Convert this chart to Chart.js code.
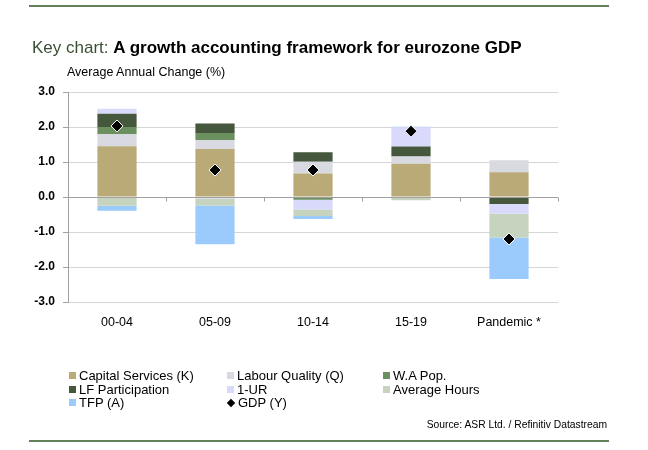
<!DOCTYPE html>
<html>
<head>
<meta charset="utf-8">
<script src="https://cdn.jsdelivr.net/npm/chart.js@4.4.1/dist/chart.umd.min.js"></script>
<style>
  body { margin: 0; width: 648px; height: 450px; background: #fff; position: relative; overflow: hidden;
         font-family: "Liberation Sans", Arial, sans-serif; color: #000; }
  canvas { position: absolute; left: 0; top: 0; }
  .rule { position: absolute; left: 29px; width: 580px; height: 2px; background: #62805a; z-index: 2; }
  .txt { position: absolute; white-space: nowrap; z-index: 2; }
  #title { left: 32px; top: 38px; font-size: 17px; line-height: 20px; }
  #title .k { color: #3b4f35; }
  #title b { font-weight: bold; }
  #ylabel { left: 67px; top: 65px; font-size: 12.5px; line-height: 14px; }
  #source { right: 41px; top: 418px; font-size: 10.3px; line-height: 14px; }
  .leg { position: absolute; height: 14px; line-height: 14px; font-size: 13px; white-space: nowrap; z-index: 2; }
  .leg i { display: inline-block; width: 7px; height: 7px; margin-right: 3px; vertical-align: 1px; }
  .leg i.dia { width: 6px; height: 6px; transform: rotate(45deg); margin-left: 1px; margin-right: 4px; }
</style>
</head>
<body>
<div class="rule" style="top:5px"></div>
<div class="txt" id="title"><span class="k">Key chart: </span><b>A growth accounting framework for eurozone GDP</b></div>
<div class="txt" id="ylabel">Average Annual Change (%)</div>
<canvas id="chart" width="648" height="450"></canvas>
<div id="legend"></div>
<div class="txt" id="source">Source: ASR Ltd. / Refinitiv Datastream</div>
<div class="rule" style="top:440px"></div>
<script>
// values (percentage points)
const categories = ["00-04", "05-09", "10-14", "15-19", "Pandemic *"];
const capital = [1.45, 1.37, 0.67, 0.95, 0.71];
const labourQuality = [0.34, 0.26, 0.34, 0.21, 0.34];
const waPop = [0.21, 0.20, -0.08, 0, 0];
const lfParticipation = [0.38, 0.27, 0.27, 0.28, -0.20];
const oneMinusUR = [0.14, -0.04, -0.28, 0.55, -0.28];
const avgHours = [-0.25, -0.20, -0.18, -0.09, -0.68];
const tfp = [-0.14, -1.11, -0.09, 0.02, -1.18];
const gdp = [2.03, 0.77, 0.77, 1.88, -1.20];
const yTicks = [-3, -2, -1, 0, 1, 2, 3];

function bar(label, data, color) {
    return { label: label, data: data, backgroundColor: color, borderWidth: 0,
             barPercentage: 0.4, categoryPercentage: 1, order: 1 };
}

// little tick marks on the zero line between categories
const zeroTicks = {
    id: "zeroTicks",
    afterDatasetsDraw(chart) {
        const { ctx, chartArea, scales } = chart;
        const y0 = Math.round(scales.y.getPixelForValue(0)) + 0.5;
        const step = (chartArea.right - chartArea.left) / categories.length;
        ctx.save();
        ctx.strokeStyle = "#a0a0a0";
        ctx.lineWidth = 1;
        ctx.beginPath();
        ctx.moveTo(chartArea.left, y0);
        ctx.lineTo(chartArea.right, y0);
        for (let i = 1; i <= categories.length; i++) {
            const x = Math.round(chartArea.left + i * step) + 0.5;
            ctx.moveTo(x, y0);
            ctx.lineTo(x, y0 + 4);
        }
        ctx.stroke();
        ctx.restore();
    }
};

const chart = new Chart(document.getElementById("chart"), {
    type: "bar",
    data: {
        labels: categories,
        datasets: [
            bar("Capital Services (K)", capital, "#b9aa78"),
            bar("Labour Quality (Q)", labourQuality, "#d9d9e1"),
            bar("W.A Pop.", waPop, "#6b8f5f"),
            bar("LF Participation", lfParticipation, "#45573d"),
            bar("1-UR", oneMinusUR, "#d9d9fb"),
            bar("Average Hours", avgHours, "#c6d4bf"),
            bar("TFP (A)", tfp, "#9acbfc"),
            {
                type: "line", label: "GDP (Y)", data: gdp, stack: "gdp", showLine: false,
                pointStyle: "rectRot", pointRadius: 6, pointHoverRadius: 6,
                backgroundColor: "#000", borderColor: "#fff", borderWidth: 1, order: 0
            }
        ]
    },
    options: {
        responsive: false,
        animation: false,
        layout: { padding: { left: 0, top: 92, right: 90, bottom: 108 } },
        plugins: { legend: { display: false }, tooltip: { enabled: false } },
        scales: {
            x: {
                stacked: true,
                grid: { display: false },
                border: { display: false },
                ticks: { color: "#000", padding: 5, font: { family: "Liberation Sans", size: 12.5 } },
                afterFit: s => { s.height = 40; }
            },
            y: {
                stacked: true,
                min: -3, max: 3,
                afterBuildTicks: s => { s.ticks = yTicks.map(v => ({ value: v })); },
                afterFit: s => { s.width = 68; },
                border: { display: true, color: "#a0a0a0" },
                grid: {
                    color: c => c.tick && c.tick.value === 0 ? "#a0a0a0" : "#d6d6d6",
                    tickColor: "#a0a0a0", tickLength: 5, lineWidth: 1
                },
                ticks: {
                    color: "#000", padding: 8,
                    font: { family: "Liberation Sans", size: 12, weight: "bold" },
                    callback: v => v.toFixed(1)
                }
            }
        }
    },
    plugins: [zeroTicks]
});

// legend laid out as a 3-column grid like the original
const legend = document.getElementById("legend");
const colX = [69, 227, 383];
const rowY = [369, 382.5, 396];
chart.data.datasets.forEach((ds, i) => {
    const el = document.createElement("div");
    el.className = "leg";
    el.style.left = colX[i % 3] + "px";
    el.style.top = rowY[Math.floor(i / 3)] + "px";
    const mark = document.createElement("i");
    if (ds.type === "line") {
        mark.className = "dia";
        mark.style.background = "#000";
    } else {
        mark.style.background = ds.backgroundColor;
    }
    el.appendChild(mark);
    el.appendChild(document.createTextNode(ds.label));
    legend.appendChild(el);
});
</script>
</body>
</html>
